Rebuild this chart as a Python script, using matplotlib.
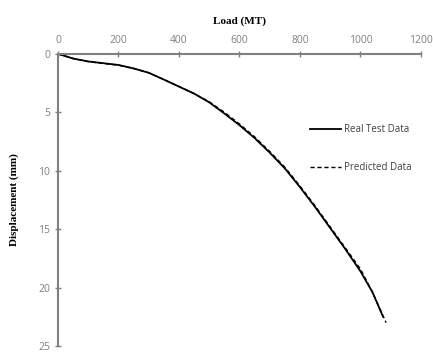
import matplotlib
matplotlib.use("Agg")
import matplotlib.pyplot as plt

load_real = [0, 25, 50, 100, 150, 200, 250, 300, 350, 400, 450, 500, 550, 600, 650,
             700, 750, 800, 850, 900, 950, 1000, 1040, 1075]
disp_real = [0, 0.2, 0.4, 0.65, 0.8, 0.95, 1.25, 1.62, 2.2, 2.8, 3.4, 4.15, 5.1, 6.1, 7.2,
             8.45, 9.8, 11.4, 13.1, 14.9, 16.7, 18.6, 20.4, 22.5]
load_pred = [0, 25, 50, 100, 150, 200, 250, 300, 350, 400, 450, 500, 550, 600, 650,
             700, 750, 800, 850, 900, 950, 1000, 1040, 1085]
disp_pred = [0, 0.2, 0.4, 0.67, 0.82, 0.97, 1.25, 1.62, 2.2, 2.8, 3.4, 4.1, 5.0, 6.0, 7.1,
             8.35, 9.7, 11.3, 13.0, 14.8, 16.6, 18.4, 20.4, 23.0]
x_ticks = [0, 200, 400, 600, 800, 1000, 1200]
y_ticks = [0, 5, 10, 15, 20, 25]

fig = plt.figure(figsize=(4.33, 3.52), dpi=100)
ax = fig.add_axes([0.134, 0.017, 0.838, 0.830])

ax.plot(load_real, disp_real, color="black", lw=1.3, label="Real Test Data")
ax.plot(load_pred, disp_pred, color="black", lw=1.0, ls=(0, (3, 2)), label="Predicted Data")

ax.set_xlim(0, 1200)
ax.set_ylim(25, 0)
ax.set_xticks(x_ticks)
ax.set_yticks(y_ticks)
ax.xaxis.tick_top()
ax.xaxis.set_label_position("top")
for s in ["right", "bottom"]:
    ax.spines[s].set_visible(False)
for s in ["top", "left"]:
    ax.spines[s].set_color("#808080")
    ax.spines[s].set_linewidth(1.5)
ax.tick_params(axis="both", direction="inout", length=4, width=1, color="#808080",
               labelcolor="#808080", labelsize=7.5)
ax.tick_params(axis="x", pad=4)
for lab in ax.get_xticklabels() + ax.get_yticklabels():
    lab.set_family("Open Sans")

ax.set_xlabel("Load (MT)", family="Liberation Serif", fontweight="bold", fontsize=8, labelpad=8)
ax.set_ylabel("Displacement (mm)", family="Liberation Serif", fontweight="bold", fontsize=8, labelpad=14)

leg = ax.legend(loc="upper left", bbox_to_anchor=(0.67, 0.79), frameon=False,
                prop={"family": "Open Sans", "size": 7}, labelspacing=2.8,
                handlelength=3.2, handletextpad=0.3)
for t in leg.get_texts():
    t.set_color("#404040")

fig.savefig("out.png", dpi=100)
